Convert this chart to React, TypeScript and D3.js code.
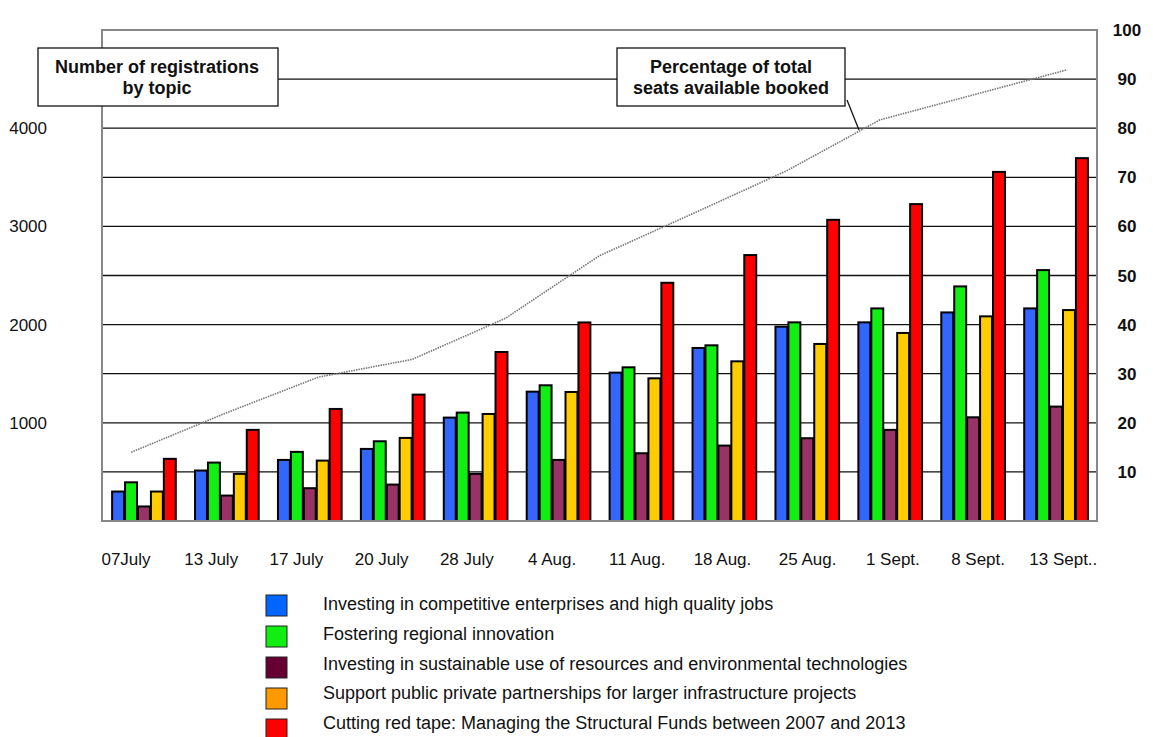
import React from "react";
import * as d3 from "d3";

const dates = ["07July", "13 July", "17 July", "20 July", "28 July", "4 Aug.", "11 Aug.", "18 Aug.", "25 Aug.", "1 Sept.", "8 Sept.", "13 Sept.."];
const seriesNames = [
  "Investing in competitive enterprises and high quality jobs",
  "Fostering regional innovation",
  "Investing in sustainable use of resources and environmental technologies",
  "Support public private partnerships for larger infrastructure projects",
  "Cutting red tape: Managing the Structural Funds between 2007 and 2013",
];
const competitive = [300, 514, 622, 734, 1053, 1317, 1511, 1762, 1979, 2023, 2124, 2165];
const innovation = [394, 595, 704, 812, 1104, 1382, 1565, 1789, 2023, 2165, 2389, 2555];
const sustainable = [148, 259, 334, 371, 480, 622, 690, 768, 843, 928, 1056, 1165];
const partnerships = [300, 480, 615, 846, 1090, 1314, 1453, 1626, 1803, 1915, 2084, 2148];
const redTape = [633, 928, 1141, 1287, 1721, 2022, 2426, 2708, 3067, 3227, 3555, 3695];
const bookedPct = [14.0, 21.9, 29.3, 32.9, 41.3, 54.0, 62.6, 71.3, 81.7, 86.8, 91.9];
const leftTicks = [1000, 2000, 3000, 4000];
const rightTicks = [10, 20, 30, 40, 50, 60, 70, 80, 90, 100];

const barColors = ["#3366FF", "#11EE11", "#993366", "#FFCC00", "#FF0000"];
const legendColors = ["#0066FF", "#11EE11", "#660033", "#FF9900", "#FF0000"];

const W = 1153, H = 737;
const plot = { left: 102, right: 1097, top: 30, bottom: 521 };
const FONT = "'Liberation Sans', Arial, sans-serif";

export default function App() {
  const allSeries = [competitive, innovation, sustainable, partnerships, redTape];
  const x0 = d3.scaleBand<string>().domain(dates).range([plot.left, plot.right]).paddingInner(0.22).paddingOuter(0.11);
  const x1 = d3.scaleBand<number>().domain(d3.range(5)).range([0, x0.bandwidth()]).padding(0);
  const yL = d3.scaleLinear().domain([0, 5000]).range([plot.bottom, plot.top]);
  const yR = d3.scaleLinear().domain([0, 100]).range([plot.bottom, plot.top]);
  const bw = x0.bandwidth();
  const first = x0(dates[0]) as number;
  const last = x0(dates[dates.length - 1]) as number;
  const xLine = d3.scalePoint<number>()
    .domain(d3.range(bookedPct.length))
    .range([first + 0.31 * bw, last + 0.68 * bw]);
  const xLabel = d3.scalePoint<string>().domain(dates).range([first + 0.23 * bw, last + 0.62 * bw]);
  const line = d3.line<number>().x((_, i) => xLine(i) as number).y((d) => yR(d));
  const grid = d3.range(500, 5000, 500);

  return (
    <svg width={W} height={H} style={{ position: "absolute", left: 0, top: 0, background: "#fff" }} fontFamily={FONT}>
      <rect x={0} y={0} width={W} height={H} fill="#fff" />
      {grid.map((g) => (
        <line key={g} x1={plot.left} x2={plot.right} y1={yL(g)} y2={yL(g)} stroke="#111" strokeWidth={1.3} />
      ))}
      {dates.map((d, i) => (
        <g key={d} transform={`translate(${x0(d)},0)`}>
          {allSeries.map((s, j) => (
            <rect key={j} x={(x1(j) as number) + 1} y={yL(s[i])} width={x1.bandwidth() - 1} height={yL(0) - yL(s[i])}
              fill={barColors[j]} stroke="#000" strokeWidth={2} />
          ))}
        </g>
      ))}
      <rect x={plot.left} y={plot.top} width={plot.right - plot.left} height={plot.bottom - plot.top} fill="none" stroke="#888" strokeWidth={2} />
      <path d={line(bookedPct) as string} fill="none" stroke="#777" strokeWidth={1.6} strokeDasharray="1.5 1" />
      {leftTicks.map((t) => (
        <text key={t} x={47} y={yL(t) + 6} textAnchor="end" fontSize={17} fill="#111">{t}</text>
      ))}
      {rightTicks.map((t) => (
        <text key={t} x={1127} y={yR(t) + 6} textAnchor="middle" fontSize={17} fontWeight="bold" fill="#111">{t}</text>
      ))}
      {dates.map((d) => (
        <text key={d} x={xLabel(d) as number} y={565} textAnchor="middle" fontSize={17} fill="#111">{d}</text>
      ))}
      {/* callout boxes */}
      <rect x={38} y={48} width={240} height={58} fill="#fff" stroke="#111" strokeWidth={1.3} />
      <text x={157} y={73} textAnchor="middle" fontSize={18} fontWeight="bold" fill="#111">Number of registrations</text>
      <text x={157} y={94} textAnchor="middle" fontSize={18} fontWeight="bold" fill="#111">by topic</text>
      <rect x={617} y={48} width={228} height={58} fill="#fff" stroke="#111" strokeWidth={1.3} />
      <text x={731} y={73} textAnchor="middle" fontSize={18} fontWeight="bold" fill="#111">Percentage of total</text>
      <text x={731} y={94} textAnchor="middle" fontSize={18} fontWeight="bold" fill="#111">seats available booked</text>
      <line x1={847} y1={100} x2={859} y2={130} stroke="#111" strokeWidth={1.3} />
      {/* legend */}
      {seriesNames.map((n, i) => (
        <g key={n}>
          <rect x={266} y={595 + i * 31} width={21} height={21} fill={legendColors[i]} stroke="#222" strokeWidth={1} />
          <text x={323} y={610 + i * 29.8} fontSize={18} fill="#111">{n}</text>
        </g>
      ))}
    </svg>
  );
}
